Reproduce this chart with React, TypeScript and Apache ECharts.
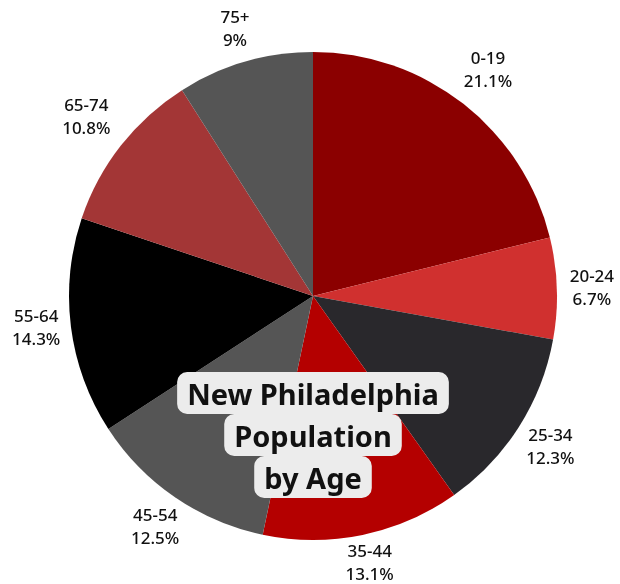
import React, { useEffect, useRef } from "react";
import * as echarts from "echarts";

const categories = ["0-19", "20-24", "25-34", "35-44", "45-54", "55-64", "65-74", "75+"];
const values = [21.1, 6.7, 12.3, 13.1, 12.5, 14.3, 10.8, 9];
const colors = ["#8b0000", "#d0302f", "#29282c", "#b40000", "#555555", "#000000", "#a33636", "#555555"];
const labelOffsets = [[3, -7], [0, 0], [2, 0], [0, -7], [0, 0], [0, -4], [-7, -8], [0, 0]];
const titleLines = ["New Philadelphia", "Population", "by Age"];

export default function App() {
  const ref = useRef<HTMLDivElement>(null);
  useEffect(() => {
    if (!ref.current) return;
    const chart = echarts.init(ref.current, undefined, { renderer: "svg" });
    const data = categories.map((c, i) => ({ name: c, value: values[i], itemStyle: { color: colors[i] } }));
    const font = '"Noto Sans", sans-serif';
    chart.setOption({
      animation: false,
      series: [
        {
          type: "pie",
          center: [313, 296],
          radius: [0, 244],
          startAngle: 90,
          clockwise: true,
          data,
          label: { show: false },
          labelLine: { show: false },
          silent: true,
        },
        {
          type: "pie",
          center: [313, 296],
          radius: [244, 308],
          startAngle: 90,
          clockwise: true,
          data: categories.map((c, i) => ({ name: c, value: values[i], label: { offset: labelOffsets[i] } })),
          itemStyle: { color: "rgba(0,0,0,0)" },
          label: {
            show: true,
            position: "inside",
            rotate: 0,
            formatter: "{b}\n{c}%",
            color: "#111",
            fontFamily: font,
            fontSize: 17,
            fontWeight: 500,
            lineHeight: 23,
            align: "center",
          },
          labelLine: { show: false },
          silent: true,
        },
      ],
      graphic: titleLines.map((t, i) => ({
        type: "text",
        x: 313,
        y: 393 + i * 42,
        z: 100 - i,
        style: {
          text: t,
          align: "center",
          verticalAlign: "middle",
          font: `bold 29px ${font}`,
          fill: "#111",
          backgroundColor: "#ececec",
          padding: [7, 10, 6, 10],
          borderRadius: 10,
        },
      })),
    });
    return () => chart.dispose();
  }, []);
  return <div ref={ref} style={{ position: "fixed", left: 0, top: 0, width: 620, height: 584 }} />;
}
